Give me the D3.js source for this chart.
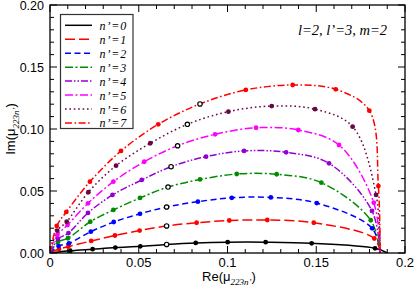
<!DOCTYPE html>
<html>
<head>
<meta charset="utf-8">
<script src="https://cdn.jsdelivr.net/npm/d3@7"></script>
<style>
  html, body { margin: 0; padding: 0; background: #fff; }
  svg { display: block; }
</style>
</head>
<body>
<svg id="chart" width="415" height="288"></svg>
<script>
// ---------- data ----------
const seriesLabels = ["n’=0", "n’=1", "n’=2", "n’=3", "n’=4", "n’=5", "n’=6", "n’=7"];
const seriesColors = ["#000000", "#ff0000", "#0000ff", "#008b00", "#9400d3", "#ff00ff", "#670748", "#ff0000"];

// filled marker positions (Re, Im) per series
const markerRe = [
  [0.0114, 0.0240, 0.0368, 0.0509, 0.0821, 0.1001, 0.1215, 0.1474, 0.1831],
  [0.0051, 0.0103, 0.0232, 0.0366, 0.0505, 0.0826, 0.1010, 0.1224, 0.1486, 0.1827],
  [0.0048, 0.0107, 0.0230, 0.0359, 0.0507, 0.0833, 0.1024, 0.1244, 0.1503, 0.1815],
  [0.0045, 0.0101, 0.0227, 0.0357, 0.0507, 0.0845, 0.1052, 0.1277, 0.1529, 0.1807],
  [0.0045, 0.0104, 0.0214, 0.0352, 0.0517, 0.0879, 0.1093, 0.1330, 0.1572, 0.1814],
  [0.0042, 0.0099, 0.0214, 0.0357, 0.0531, 0.0930, 0.1161, 0.1399, 0.1628, 0.1824],
  [0.0041, 0.0094, 0.0216, 0.0372, 0.0565, 0.1005, 0.1249, 0.1493, 0.1705, 0.1837],
  [0.0038, 0.0092, 0.0225, 0.0400, 0.0610, 0.1103, 0.1367, 0.1610, 0.1799, 0.1850]
];
const markerIm = [
  [0.0018, 0.0031, 0.0044, 0.0054, 0.0081, 0.0087, 0.0087, 0.0078, 0.0038],
  [0.0032, 0.0051, 0.0097, 0.0141, 0.0181, 0.0244, 0.0262, 0.0266, 0.0244, 0.0117],
  [0.0056, 0.0078, 0.0172, 0.0250, 0.0316, 0.0414, 0.0445, 0.0448, 0.0403, 0.0199],
  [0.0089, 0.0119, 0.0252, 0.0347, 0.0444, 0.0593, 0.0637, 0.0635, 0.0567, 0.0264],
  [0.0113, 0.0161, 0.0323, 0.0468, 0.0589, 0.0777, 0.0823, 0.0812, 0.0723, 0.0339],
  [0.0145, 0.0226, 0.0401, 0.0575, 0.0736, 0.0957, 0.1010, 0.0992, 0.0871, 0.0406],
  [0.0180, 0.0252, 0.0490, 0.0704, 0.0885, 0.1140, 0.1185, 0.1160, 0.1019, 0.0468],
  [0.0218, 0.0331, 0.0575, 0.0823, 0.1038, 0.1315, 0.1355, 0.1320, 0.1148, 0.0540]
];
// open-circle marker per series
const openRe = [0.0657, 0.0657, 0.0657, 0.0665, 0.0682, 0.0719, 0.0774, 0.0845];
const openIm = [0.0069, 0.0218, 0.0371, 0.0532, 0.0696, 0.0865, 0.1038, 0.1202];
// curve end points on the real axis
const endRe = [0.1900, 0.1860, 0.1860, 0.1860, 0.1860, 0.1860, 0.1860, 0.1860];
const endIm = [0, 0, 0, 0, 0, 0, 0, 0];

const xTicks = [0, 0.05, 0.1, 0.15, 0.2];
const xTickLabels = ["0", "0.05", "0.1", "0.15", "0.2"];
const yTicks = [0, 0.05, 0.1, 0.15, 0.2];
const yTickLabels = ["0.00", "0.05", "0.10", "0.15", "0.20"];

// ---------- styles ----------
const dashes = ["", "10,4", "6,3.5", "8,2.5,2,2.5", "7,2,1.5,2,1.5,2", "8,2.5,2,2.5", "1.6,2.8", "7,2.5,1.6,2.5"];

const svg = d3.select("#chart");
const M = { left: 50, right: 405, top: 5, bottom: 253 };
const x = d3.scaleLinear().domain([0, 0.2]).range([M.left, M.right]);
const y = d3.scaleLinear().domain([0, 0.2]).range([M.bottom, M.top]);

const plot = svg.append("g");
svg.append("clipPath").attr("id", "clip").append("rect")
  .attr("x", M.left).attr("y", M.top).attr("width", M.right - M.left).attr("height", M.bottom - M.top);

// curves
const line = d3.line().x(d => x(d[0])).y(d => y(d[1])).curve(d3.curveCatmullRom.alpha(0.5));
const curvesG = plot.append("g").attr("clip-path", "url(#clip)");
for (let s = 0; s < seriesLabels.length; s++) {
  const pts = [[0, 0]];
  markerRe[s].forEach((r, i) => pts.push([r, markerIm[s][i]]));
  pts.push([openRe[s], openIm[s]]);
  pts.push([endRe[s], endIm[s]]);
  pts.sort((a, b) => a[0] - b[0]);
  curvesG.append("path").datum(pts)
    .attr("d", line)
    .attr("fill", "none")
    .attr("stroke", seriesColors[s])
    .attr("stroke-width", 1.5)
    .attr("stroke-dasharray", dashes[s] || null);
}
// markers
for (let s = 0; s < seriesLabels.length; s++) {
  curvesG.append("g").selectAll("circle").data(markerRe[s].map((r, i) => [r, markerIm[s][i]]))
    .join("circle")
    .attr("cx", d => x(d[0])).attr("cy", d => y(d[1]))
    .attr("r", 2.4).attr("fill", seriesColors[s]);
  curvesG.append("circle")
    .attr("cx", x(openRe[s])).attr("cy", y(openIm[s]))
    .attr("r", 2.2).attr("fill", "#fff").attr("stroke", "#000").attr("stroke-width", 1.2);
}

// axes with inward ticks on all four sides
const xMinor = d3.range(0, 0.2001, 0.01);
const yMinor = d3.range(0, 0.2001, 0.01);
const axG = svg.append("g").attr("stroke", "#000").attr("stroke-width", 1);
function isMajor(v) { return Math.abs(v / 0.05 - Math.round(v / 0.05)) < 1e-6; }
xMinor.forEach(v => {
  const L = isMajor(v) ? 7 : 4;
  axG.append("line").attr("x1", x(v)).attr("x2", x(v)).attr("y1", M.bottom).attr("y2", M.bottom - L);
  axG.append("line").attr("x1", x(v)).attr("x2", x(v)).attr("y1", M.top).attr("y2", M.top + L);
});
yMinor.forEach(v => {
  const L = isMajor(v) ? 7 : 4;
  axG.append("line").attr("y1", y(v)).attr("y2", y(v)).attr("x1", M.left).attr("x2", M.left + L);
  axG.append("line").attr("y1", y(v)).attr("y2", y(v)).attr("x1", M.right).attr("x2", M.right - L);
});
svg.append("rect").attr("x", M.left).attr("y", M.top)
  .attr("width", M.right - M.left).attr("height", M.bottom - M.top)
  .attr("fill", "none").attr("stroke", "#000").attr("stroke-width", 1.3);

// tick labels
const tickFont = "'Liberation Sans', Arial, sans-serif";
svg.append("g").selectAll("text").data(xTicks).join("text")
  .attr("x", d => x(d)).attr("y", 267)
  .attr("text-anchor", "middle").attr("font-family", tickFont).attr("font-size", 13)
  .text((d, i) => xTickLabels[i]);
svg.append("g").selectAll("text").data(yTicks).join("text")
  .attr("x", 44).attr("y", d => y(d) + 4.6)
  .attr("text-anchor", "end").attr("font-family", tickFont).attr("font-size", 12.5)
  .text((d, i) => yTickLabels[i]);

// axis titles
const xt = svg.append("text").attr("x", 229).attr("y", 281).attr("text-anchor", "middle")
  .attr("font-family", tickFont).attr("font-size", 13);
xt.append("tspan").text("Re(μ");
xt.append("tspan").attr("font-family", "'Liberation Serif', serif").attr("font-style", "italic")
  .attr("font-size", 9).attr("dy", 3.5).text("223n’");
xt.append("tspan").attr("dy", -3.5).text(")");

const yt = svg.append("text").attr("transform", "translate(15,129) rotate(-90)").attr("text-anchor", "middle")
  .attr("font-family", tickFont).attr("font-size", 13);
yt.append("tspan").text("Im(μ");
yt.append("tspan").attr("font-family", "'Liberation Serif', serif").attr("font-style", "italic")
  .attr("font-size", 9).attr("dy", 3.5).text("223n’");
yt.append("tspan").attr("dy", -3.5).text(")");

// annotation
svg.append("text").attr("x", 298).attr("y", 34.5)
  .attr("font-family", "'Liberation Serif', serif").attr("font-style", "italic").attr("font-size", 14.5)
  .text("l=2, l’=3, m=2");

// legend
const lg = svg.append("g");
lg.append("rect").attr("x", 60.5).attr("y", 14.5).attr("width", 72.5).attr("height", 114)
  .attr("fill", "#fff").attr("stroke", "#333").attr("stroke-width", 1.2);
seriesLabels.forEach((lab, i) => {
  const yy = 25.3 + i * 13.95;
  lg.append("line").attr("x1", 65).attr("x2", 92).attr("y1", yy).attr("y2", yy)
    .attr("stroke", seriesColors[i]).attr("stroke-width", 1.5)
    .attr("stroke-dasharray", dashes[i] || null);
  lg.append("text").attr("x", 99.5).attr("y", yy + 4.5)
    .attr("font-family", "'Liberation Serif', serif").attr("font-style", "italic").attr("font-size", 12)
    .attr("letter-spacing", 0.9)
    .text(lab);
});
</script>
</body>
</html>
